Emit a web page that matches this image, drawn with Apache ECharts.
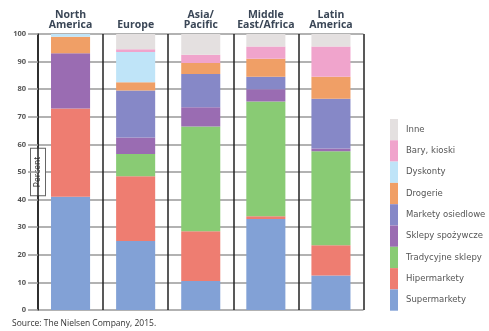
<!DOCTYPE html>
<html><head><meta charset="utf-8">
<script src="https://cdn.jsdelivr.net/npm/echarts@6/dist/echarts.min.js"></script>
<style>html,body{margin:0;padding:0;background:#fff}#c{width:489px;height:331px}</style>
</head><body><div id="c"></div>
<script>
const categories = ['North\nAmerica', 'Europe', 'Asia/\nPacific', 'Middle\nEast/Africa', 'Latin\nAmerica'];
const seriesNames = ['Supermarkety', 'Hipermarkety', 'Tradycyjne sklepy', 'Sklepy spożywcze', 'Markety osiedlowe', 'Drogerie', 'Dyskonty', 'Bary, kioski', 'Inne'];
const supermarkety = [41, 25, 10.5, 33, 12.5];
const hipermarkety = [32, 23.5, 18, 1, 11];
const tradycyjne = [0, 8, 38, 41.5, 34];
const sklepySpozywcze = [20, 6, 7, 4.5, 1];
const marketyOsiedlowe = [0, 17, 12, 4.5, 18];
const drogerie = [6, 3, 4, 6.5, 8];
const dyskonty = [1, 11, 0, 0, 0];
const baryKioski = [0, 1, 3, 4.5, 11];
const inne = [0, 5.5, 7.5, 4.5, 4.5];
const yTicks = [0, 10, 20, 30, 40, 50, 60, 70, 80, 90, 100];

const values = [supermarkety, hipermarkety, tradycyjne, sklepySpozywcze, marketyOsiedlowe, drogerie, dyskonty, baryKioski, inne];
const colors = ['#82a1d6', '#ee7d71', '#89cb74', '#9a6cb2', '#8688c7', '#f09f66', '#bfe4f8', '#f0a4cc', '#e4e0e0'];

const chart = echarts.init(document.getElementById('c'));
chart.setOption({
  animation: false,
  textStyle: { fontFamily: 'Open Sans' },
  grid: { left: 38, right: 125.5, top: 34, bottom: 21, containLabel: false },
  xAxis: {
    type: 'category', position: 'top', data: categories,
    axisLine: { show: false }, axisTick: { show: false },
    axisLabel: { interval: 0, fontSize: 10.5, fontWeight: 'bold', color: '#3a4656', lineHeight: 10, margin: 4 },
    splitLine: { show: true, interval: 0, lineStyle: { color: '#222', width: 1.5 } }
  },
  yAxis: {
    type: 'value', min: 0, max: 100, interval: 10,
    axisLine: { show: true, lineStyle: { color: '#222', width: 1.5 } },
    axisTick: { show: true, inside: false, length: 10, lineStyle: { color: '#999', width: 1.5 } },
    axisLabel: { fontSize: 7.5, fontWeight: 'bold', color: '#555', margin: 12,
      formatter: v => yTicks.includes(v) ? String(v) : '' },
    splitLine: { show: true, lineStyle: { color: '#999', width: 1.5 } },
    name: 'Percent', nameLocation: 'middle', nameRotate: 90, nameGap: 0, nameMoveOverlap: false,
    nameTextStyle: { fontSize: 8.5, color: '#333', backgroundColor: '#fff', borderColor: '#666', borderWidth: 1, padding: [3, 8, 2, 8], align: 'center', verticalAlign: 'middle' }
  },
  legend: {
    orient: 'vertical', left: 385, top: 114, itemWidth: 8, itemHeight: 21.3, itemGap: 0,
    icon: 'rect', data: seriesNames.slice().reverse(),
    textStyle: { fontSize: 8.5, color: '#555', fontFamily: 'DejaVu Sans', padding: [0, 0, 0, 3] }
  },
  series: seriesNames.map((n, i) => ({
    name: n, type: 'bar', stack: 'total', barWidth: '60%',
    data: values[i], itemStyle: { color: colors[i] }
  })),
  color: colors,
  graphic: [{ type: 'text', left: 12, top: 319, style: { text: 'Source: The Nielsen Company, 2015.', fontSize: 8.5, fill: '#333', fontFamily: 'Open Sans' } }]
});
</script></body></html>
